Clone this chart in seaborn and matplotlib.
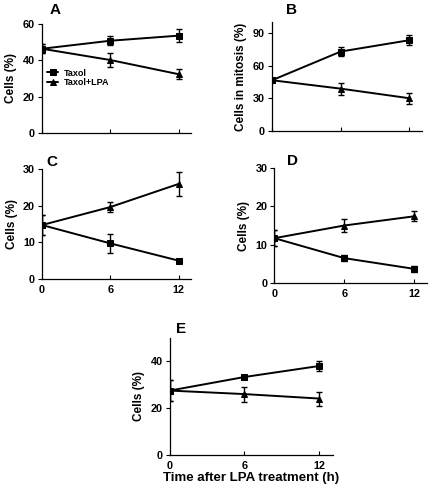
import numpy as np
import pandas as pd
import matplotlib
matplotlib.use("Agg")
import matplotlib.pyplot as plt
import seaborn as sns

# time points (h)
time_h = [0, 6, 12]

# panel A
a_taxol = [46.3, 50.7, 53.5]
a_taxol_err = [2.5, 2.5, 3.5]
a_lpa = [46.3, 40.1, 32.3]
a_lpa_err = [2.5, 4.0, 2.8]

# panel B
b_taxol = [46.5, 72.8, 83.2]
b_taxol_err = [1.5, 3.8, 4.3]
b_lpa = [46.5, 38.8, 30.0]
b_lpa_err = [1.5, 5.5, 5.0]

# panel C
c_taxol = [14.7, 9.7, 5.0]
c_taxol_err = [2.7, 2.6, 0.4]
c_lpa = [14.7, 19.6, 25.9]
c_lpa_err = [2.7, 1.4, 3.2]

# panel D
d_taxol = [11.7, 6.5, 3.7]
d_taxol_err = [2.0, 0.8, 0.8]
d_lpa = [11.7, 15.0, 17.4]
d_lpa_err = [2.0, 1.8, 1.3]

# panel E
e_taxol = [27.5, 33.3, 38.0]
e_taxol_err = [4.4, 0.8, 2.3]
e_lpa = [27.5, 26.0, 24.1]
e_lpa_err = [4.4, 3.2, 3.0]

sns.set_style("ticks")
plt.rcParams['font.family'] = ['Liberation Sans', 'DejaVu Sans']
plt.rcParams['font.weight'] = 'bold'
plt.rcParams['axes.labelweight'] = 'bold'
for key in ('text.color', 'axes.labelcolor', 'xtick.color', 'ytick.color', 'axes.edgecolor'):
    plt.rcParams[key] = 'black'

fig = plt.figure(figsize=(4.3, 4.94), dpi=100)

panels = [
    ("A", [0.0977, 0.7308, 0.347, 0.221], 60, [0, 20, 40, 60], "Cells (%)",
     a_taxol, a_taxol_err, a_lpa, a_lpa_err, (0.128, 0.98)),
    ("B", [0.6326, 0.7348, 0.349, 0.221], 100, [0, 30, 60, 90], "Cells in mitosis (%)",
     b_taxol, b_taxol_err, b_lpa, b_lpa_err, (0.679, 0.98)),
    ("C", [0.0977, 0.4352, 0.347, 0.223], 30, [0, 10, 20, 30], "Cells (%)",
     c_taxol, c_taxol_err, c_lpa, c_lpa_err, (0.121, 0.672)),
    ("D", [0.638, 0.427, 0.355, 0.233], 30, [0, 10, 20, 30], "Cells (%)",
     d_taxol, d_taxol_err, d_lpa, d_lpa_err, (0.681, 0.674)),
    ("E", [0.395, 0.079, 0.379, 0.237], 50, [0, 20, 40], "Cells (%)",
     e_taxol, e_taxol_err, e_lpa, e_lpa_err, (0.42, 0.335)),
]

for letter, rect, ymax, yticks, ylab, tx, txe, lp, lpe, lpos in panels:
    ax = fig.add_axes(rect)
    df = pd.DataFrame({
        'time': time_h * 2,
        'value': tx + lp,
        'group': ['Taxol'] * 3 + ['Taxol+LPA'] * 3,
    })
    sns.lineplot(data=df, x='time', y='value', hue='group', style='group',
                 markers={'Taxol': 's', 'Taxol+LPA': '^'}, dashes=False,
                 palette={'Taxol': 'black', 'Taxol+LPA': 'black'},
                 markersize=4.5, markeredgecolor='black', linewidth=1.4,
                 ax=ax, legend=(letter == "A"))
    ax.errorbar(time_h, tx, yerr=txe, fmt='none', ecolor='black',
                elinewidth=1.0, capsize=2.3, capthick=1.0)
    ax.errorbar(time_h, lp, yerr=lpe, fmt='none', ecolor='black',
                elinewidth=1.0, capsize=2.3, capthick=1.0)
    ax.set_xlim(0, 13.1)
    ax.set_ylim(0, ymax)
    ax.set_yticks(yticks)
    ax.set_xticks(time_h)
    ax.tick_params(axis='x', direction='in', length=3, width=0.8)
    ax.tick_params(axis='y', direction='out', length=3, width=0.8,
                   labelsize=7.8, pad=2)
    if letter in ("A", "B"):
        ax.set_xticklabels([])
    else:
        ax.tick_params(axis='x', labelsize=7.8, pad=4)
    for lab in ax.get_xticklabels() + ax.get_yticklabels():
        lab.set_fontweight('bold')
    ax.set_ylabel(ylab, fontsize=8.5, fontweight='bold', labelpad=4)
    ax.set_xlabel("")
    for s in ('left', 'bottom'):
        ax.spines[s].set_linewidth(0.9)
    sns.despine(ax=ax)
    fig.text(lpos[0], lpos[1], letter, fontsize=11, fontweight='bold',
             ha='center', va='center')
    if letter == "A":
        leg = ax.legend(loc='upper left', bbox_to_anchor=(0.0, 0.64), frameon=False,
                        fontsize=6.5, handlelength=1.2, handletextpad=0.6,
                        labelspacing=0.1, borderaxespad=0.2)
        for t in leg.get_texts():
            t.set_fontweight('bold')
    if letter == "E":
        ax.set_xlabel("Time after LPA treatment (h)", fontsize=9.5,
                      fontweight='bold', labelpad=1)

fig.savefig('out.png', dpi=100)
